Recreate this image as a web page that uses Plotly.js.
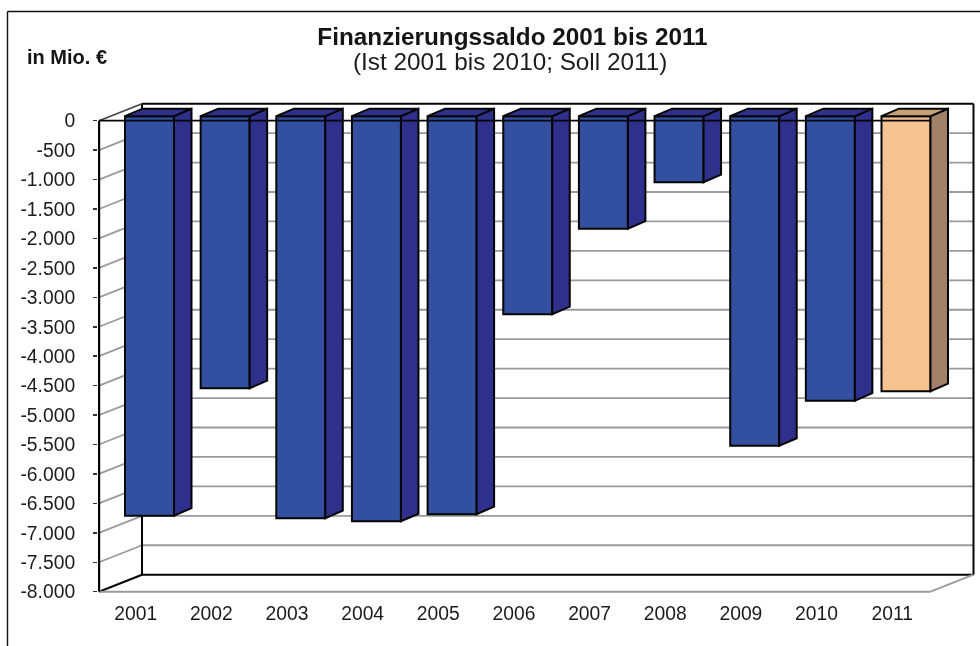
<!DOCTYPE html>
<html><head><meta charset="utf-8">
<script src="https://cdn.plot.ly/plotly-3.0.1.min.js"></script>
<style>html,body{margin:0;padding:0;background:#fff}#c{width:980px;height:646px;filter:blur(0.4px)}</style>
</head><body><div id="c"></div>
<script>
const years = [2001,2002,2003,2004,2005,2006,2007,2008,2009,2010,2011];
const saldo = [-6785,-4620,-6828,-6880,-6760,-3363,-1911,-1121,-5597,-4832,-4670];
const yTicks = [0,-500,-1000,-1500,-2000,-2500,-3000,-3500,-4000,-4500,-5000,-5500,-6000,-6500,-7000,-7500,-8000];
const yTickLabels = ['0','-500','-1.000','-1.500','-2.000','-2.500','-3.000','-3.500','-4.000','-4.500','-5.000','-5.500','-6.000','-6.500','-7.000','-7.500','-8.000'];
const titleMain = 'Finanzierungssaldo 2001 bis 2011';
const titleSub = '(Ist 2001 bis 2010; Soll 2011)';
const unitLabel = 'in Mio. €';

// plot frame in pixels (slightly larger than the drawn box so its edges are not clipped)
const L = 98, R = 976, T = 101, B = 594;
const pxPerYear = 75.65, pxPerUnit = 0.058875, anchor = 135.7, floorPx = 591.7;
const xAt = p => 2001 + (p - anchor) / pxPerYear;
const xMin = xAt(L), xMax = xAt(R);
const xd = p => p / pxPerYear, yd = p => p / pxPerUnit;
const yMin = -8000 - yd(B - floorPx), yMax = yMin + yd(B - T);
const wallDX = xd(43), wallDY = yd(17);
const barDX = xd(17.5), barDY = yd(7.5);
const barLift = yd(4.5), barOffset = xd(125 - anchor), barWidth = xd(49);
const BLACK = '#050505', GRID = '#9a9a9a';
const front = y => y === 2011 ? '#f6c28f' : '#3350a0';
const side  = y => y === 2011 ? '#a08066' : '#2f2f8c';
const top_  = y => y === 2011 ? '#c79f74' : '#2f2f8c';

const traces = [{
  type: 'bar', x: years, y: saldo, base: years.map(() => barLift),
  offset: barOffset, width: barWidth,
  marker: {color: years.map(front), line: {color: BLACK, width: 2}},
  showlegend: false, hoverinfo: 'x+y'
}];
years.forEach((yr, i) => {
  const x0 = yr + barOffset, x1 = x0 + barWidth, t = barLift, b = barLift + saldo[i];
  traces.push({type: 'scatter', mode: 'lines', fill: 'toself', fillcolor: side(yr), showlegend: false, hoverinfo: 'skip',
    x: [x1, x1 + barDX, x1 + barDX, x1, x1], y: [t, t + barDY, b + barDY, b, t], line: {color: BLACK, width: 2}});
  traces.push({type: 'scatter', mode: 'lines', fill: 'toself', fillcolor: top_(yr), showlegend: false, hoverinfo: 'skip',
    x: [x0, x0 + barDX, x1 + barDX, x1, x0], y: [t, t + barDY, t + barDY, t, t], line: {color: BLACK, width: 2}});
});

const seg = (x0, y0, x1, y1, color, width, layer) => ({type: 'line', xref: 'x', yref: 'y', x0, y0, x1, y1, layer: layer || 'below', line: {color, width}});
const axisX = xAt(99), backL = axisX + wallDX, backR = xAt(973.5), floorR = backR - wallDX;
const shapes = [];
yTicks.forEach(v => {
  if (v !== 0 && v !== -8000) {
    shapes.push(seg(axisX, v, backL, v + wallDY, GRID, 1.8));
    shapes.push(seg(backL, v + wallDY, backR, v + wallDY, GRID, 1.8));
  }
});
shapes.push(seg(backL, wallDY, backR, wallDY, BLACK, 2));
shapes.push(seg(backL, -8000 + wallDY, backR, -8000 + wallDY, BLACK, 2));
shapes.push(seg(backL, wallDY, backL, -8000 + wallDY, BLACK, 2));
shapes.push(seg(backR, wallDY, backR, -8000 + wallDY, BLACK, 2));
shapes.push(seg(axisX, 0, backL, wallDY, '#444', 1.6));
shapes.push(seg(axisX, -8000, backL, -8000 + wallDY, BLACK, 2));
shapes.push(seg(axisX, -8000, floorR, -8000, GRID, 2));
shapes.push(seg(floorR, -8000, backR, -8000 + wallDY, GRID, 1.8));
shapes.push(seg(axisX, 0, axisX, -8000, BLACK, 2.4));
shapes.push(seg(axisX, 0, floorR, 0, BLACK, 1.7, 'above'));
// outer picture frame
const W = R - L, H = B - T;
const fx = p => (p - L) / W, fy = p => (B - p) / H;
shapes.push({type: 'line', xref: 'paper', yref: 'paper', x0: fx(7.5), y0: fy(646), x1: fx(7.5), y1: fy(11.5), line: {color: '#111', width: 1.4}});
shapes.push({type: 'line', xref: 'paper', yref: 'paper', x0: fx(7.5), y0: fy(11.5), x1: fx(980), y1: fy(11.5), line: {color: '#111', width: 1.4}});

const layout = {
  width: 980, height: 646, autosize: false,
  paper_bgcolor: '#fff', plot_bgcolor: '#fff',
  font: {family: '"Liberation Sans", Arial, sans-serif', color: '#1c1c1c', size: 19.3},
  margin: {l: L, r: 980 - R, t: T, b: 646 - B, pad: 0},
  title: {
    text: '<b>' + titleMain + '</b>',
    x: 512.5 / 980, xref: 'container', xanchor: 'center', y: 1 - 36 / 646, yref: 'container', yanchor: 'middle',
    font: {size: 24.3, color: '#151515'}
  },
  xaxis: {type: 'linear', range: [xMin, xMax], tickmode: 'array', tickvals: years, ticktext: years.map(String),
    showgrid: false, zeroline: false, showline: false, ticks: '', ticklabelstandoff: 6, tickfont: {size: 19.3}},
  yaxis: {type: 'linear', range: [yMin, yMax], tickmode: 'array', tickvals: yTicks, ticktext: yTickLabels,
    showgrid: false, zeroline: false, showline: false, ticks: 'outside', ticklen: 4, tickwidth: 1.5, tickcolor: '#333',
    ticklabelstandoff: 14, tickfont: {size: 19.3}},
  shapes,
  annotations: [
    {xref: 'paper', yref: 'paper', x: fx(25), y: fy(57), xanchor: 'left', yanchor: 'middle', showarrow: false,
     text: '<b>' + unitLabel + '</b>', font: {size: 20, color: '#151515'}},
    {xref: 'paper', yref: 'paper', x: fx(510), y: fy(62), xanchor: 'center', yanchor: 'middle', showarrow: false,
     text: titleSub, font: {size: 24.3, color: '#1c1c1c'}}
  ],
  showlegend: false
};
Plotly.newPlot('c', traces, layout, {displayModeBar: false, staticPlot: true});
</script></body></html>
